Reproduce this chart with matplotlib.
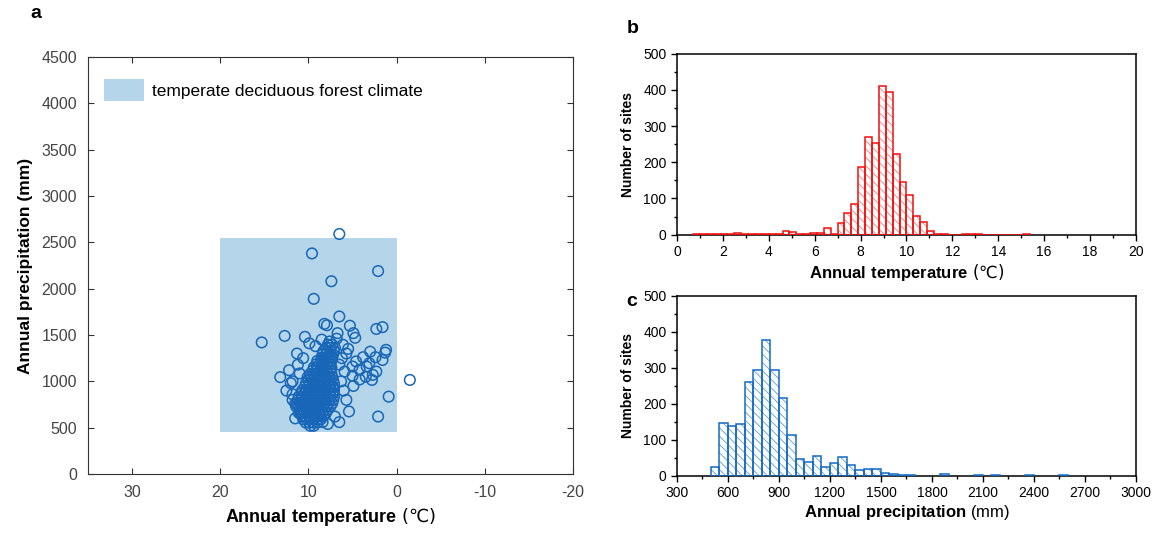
import matplotlib
matplotlib.use('Agg')
import matplotlib.pyplot as plt
from matplotlib.patches import Patch, Rectangle
from matplotlib.ticker import MultipleLocator

plt.rcParams['font.family'] = ['Liberation Sans', 'DejaVu Sans']
plt.rcParams['mathtext.fontset'] = 'custom'
plt.rcParams['mathtext.rm'] = 'DejaVu Sans'
plt.rcParams['mathtext.bf'] = 'Liberation Sans:bold'
plt.rcParams['axes.unicode_minus'] = False
plt.rcParams['hatch.linewidth'] = 0.6

# climate envelope (temperature range, precipitation range)
zone_temp = [0, 20]
zone_prec = [450, 2550]
zone_label = 'temperate deciduous forest climate'

# scattered sites (temperature, precipitation)
out_t = [6.5, 9.6, 2.1, 7.4, 9.4, 6.5, 5.3, 2.3, 1.6, 15.3, 12.7, 10.4, 8.2, 7.9,
         4.9, 4.7, -1.5, 0.9, 2.1, 5.4, 5.7, 13.2, 11.8, 4.9, 1.3, 1.2, 1.6, 2.4,
         2.8, 2.7, 2.3, 3.8, 4.6, 5.0, 5.9, 5.7, 6.1, 6.7, 3.4, 4.2, 3.1, 7.0,
         11.8, 11.0, 9.9, 3.5, 4.2, 6.2, 5.5, 6.5, 3.0, 5.0, 6.8, 8.5, 9.2,
         10.6, 11.3, 12.5, 10.9, 11.5, 6.5, 7.8, 8.4, 6.0, 6.3, 12.0, 11.8, 11.5,
         12.2, 11.2]
out_p = [2590, 2380, 2190, 2080, 1890, 1700, 1600, 1565, 1585, 1420, 1490, 1480, 1620, 1605,
         1520, 1470, 1015, 835, 620, 675, 800, 1045, 1000, 950, 1310, 1340, 1230, 1260,
         1015, 1070, 1105, 1260, 1215, 1160, 1105, 1300, 1395, 1520, 1160, 1125, 1195, 620,
         800, 1085, 1410, 1050, 1020, 1250, 1350, 1180, 1320, 1060, 1460, 1450, 1380,
         1250, 1300, 900, 650, 600, 560, 540, 560, 900, 1000, 980, 860, 760,
         1120, 1180]

# dense core of sites: precipitation rows and the temperatures found on each row
core_p = [520, 555, 590, 625, 660, 695, 730, 765, 800, 835, 870, 905, 940, 975,
          1010, 1045, 1080, 1115, 1150, 1185, 1220, 1255, 1290, 1325, 1360, 1395, 1430]
core_t = [
    [9.4, 9.8],
    [9.0, 9.45, 9.9, 10.3],
    [8.6, 9.0, 9.4, 9.8, 10.2, 10.6],
    [8.3, 8.7, 9.1, 9.5, 9.9, 10.3, 10.7],
    [8.0, 8.4, 8.8, 9.2, 9.6, 10.0, 10.4, 10.8, 11.1],
    [7.8, 8.2, 8.6, 9.0, 9.4, 9.8, 10.2, 10.6, 11.0],
    [7.5, 7.9, 8.3, 8.7, 9.1, 9.5, 9.9, 10.3, 10.7, 11.1, 11.4],
    [7.3, 7.7, 8.1, 8.5, 8.9, 9.3, 9.7, 10.1, 10.5, 10.9, 11.3],
    [7.2, 7.6, 8.0, 8.4, 8.8, 9.2, 9.6, 10.0, 10.4, 10.8, 11.2],
    [7.1, 7.5, 7.9, 8.3, 8.7, 9.1, 9.5, 9.9, 10.3, 10.7, 11.1],
    [7.2, 7.6, 8.0, 8.4, 8.8, 9.2, 9.6, 10.0, 10.4, 10.8],
    [7.1, 7.5, 7.9, 8.3, 8.7, 9.1, 9.5, 9.9, 10.3, 10.7],
    [7.2, 7.6, 8.0, 8.4, 8.8, 9.2, 9.6, 10.0, 10.4],
    [7.1, 7.5, 7.9, 8.3, 8.7, 9.1, 9.5, 9.9, 10.3],
    [7.2, 7.6, 8.0, 8.4, 8.8, 9.2, 9.6, 10.0],
    [7.3, 7.7, 8.1, 8.5, 8.9, 9.3, 9.7, 10.1],
    [7.4, 7.8, 8.2, 8.6, 9.0, 9.4, 9.8],
    [7.5, 7.9, 8.3, 8.7, 9.1, 9.5],
    [7.4, 7.8, 8.2, 8.6, 9.0, 9.4],
    [7.5, 7.9, 8.3, 8.7, 9.1],
    [7.4, 7.8, 8.2, 8.6, 9.0],
    [7.3, 7.7, 8.1, 8.5],
    [7.2, 7.6, 8.0, 8.4],
    [7.1, 7.5, 7.9, 8.3],
    [7.0, 7.5, 8.0],
    [7.3, 7.8],
    [7.6],
]

# histogram of annual temperature (bin left edges, width 0.3)
temp_bins = [0.7, 1.0, 1.3, 1.6, 1.9, 2.2, 2.5, 2.8, 3.1, 3.4, 3.7, 4.0, 4.3, 4.6,
             4.9, 5.2, 5.5, 5.8, 6.1, 6.4, 6.7, 7.0, 7.3, 7.6, 7.9, 8.2, 8.5, 8.8,
             9.1, 9.4, 9.7, 10.0, 10.3, 10.6, 10.9, 11.2, 11.5, 11.8, 12.1, 12.4,
             12.7, 13.0, 13.3, 13.6, 13.9, 14.2, 14.5, 14.8, 15.1]
temp_count = [1, 1, 3, 1, 3, 1, 5, 1, 1, 1, 1, 3, 2, 11,
              8, 1, 1, 4, 4, 18, 1, 33, 61, 86, 188, 269, 252, 411,
              393, 222, 145, 109, 52, 35, 11, 3, 1, 0, 0, 1,
              1, 1, 0, 0, 0, 0, 0, 0, 1]

# histogram of annual precipitation (bin left edges, width 50)
prec_bins = [500, 550, 600, 650, 700, 750, 800, 850, 900, 950, 1000, 1050, 1100,
             1150, 1200, 1250, 1300, 1350, 1400, 1450, 1500, 1550, 1600, 1650,
             1850, 2050, 2150, 2350, 2550]
prec_count = [25, 147, 137, 143, 260, 294, 377, 294, 216, 114, 47, 38, 56,
              24, 35, 52, 31, 17, 19, 19, 8, 4, 2, 1,
              4, 1, 1, 1, 1]

core_x = []
core_y = []
for p, row in zip(core_p, core_t):
    for t in row:
        core_x.append(t)
        core_y.append(p)

fig = plt.figure(figsize=(11.57, 5.33), dpi=100)

# ---- panel a
ax = fig.add_axes([0.0761, 0.1107, 0.4191, 0.7824])
ax.add_patch(Rectangle((zone_temp[0], zone_prec[0]), zone_temp[1] - zone_temp[0],
                       zone_prec[1] - zone_prec[0], facecolor='#b5d6ea',
                       edgecolor='none', zorder=1))
ax.scatter(core_x, core_y, s=58, facecolors='none', edgecolors='#1766b8',
           linewidths=1.1, zorder=2)
ax.scatter(out_t, out_p, s=58, facecolors='none', edgecolors='#1766b8',
           linewidths=1.1, zorder=2)
ax.set_xlim(35, -20)
ax.set_ylim(0, 4500)
ax.set_xticks([30, 20, 10, 0, -10, -20])
ax.set_yticks(range(0, 4501, 500))
ax.tick_params(direction='in', top=True, right=True, length=4, width=0.8,
               labelsize=11.5, labelcolor='#444444', color='#333333', pad=8)
for s in ax.spines.values():
    s.set_color('#333333')
    s.set_linewidth(0.8)
ax.set_xlabel(r'$\mathbf{Annual\ temperature}$ (℃)', fontsize=13, labelpad=4,
              fontfamily='DejaVu Sans')
ax.set_ylabel('Annual precipitation (mm)', fontsize=12.5, fontweight='bold', labelpad=6)
ax.legend(handles=[Patch(facecolor='#b5d6ea', edgecolor='none', label=zone_label)],
          loc='upper left', bbox_to_anchor=(0.0, 0.985), frameon=False,
          fontsize=12.5, handlelength=2.3, handleheight=1.6, handletextpad=0.5)

# ---- panel b
axb = fig.add_axes([0.5851, 0.5597, 0.3967, 0.3396])
axb.bar(temp_bins, temp_count, width=0.3, align='edge', facecolor='none',
        edgecolor='#ff7a7a', linewidth=0, hatch='\\\\\\\\', zorder=2)
axb.bar(temp_bins, temp_count, width=0.3, align='edge', facecolor='none',
        edgecolor='#f01010', linewidth=1.1, zorder=3)
axb.set_xlim(0, 20)
axb.set_ylim(0, 500)
axb.xaxis.set_major_locator(MultipleLocator(2))
axb.xaxis.set_minor_locator(MultipleLocator(1))
axb.yaxis.set_major_locator(MultipleLocator(100))
axb.yaxis.set_minor_locator(MultipleLocator(50))
axb.tick_params(which='major', length=4, width=1, labelsize=10)
axb.tick_params(which='minor', length=2, width=1)
for s in axb.spines.values():
    s.set_linewidth(1.1)
axb.set_xlabel(r'$\mathbf{Annual\ temperature}$ (℃)', fontsize=12, labelpad=2,
               fontfamily='DejaVu Sans')
axb.set_ylabel('Number of sites', fontsize=10, fontweight='bold', labelpad=6)

# ---- panel c
axc = fig.add_axes([0.5851, 0.1075, 0.3967, 0.3372])
axc.bar(prec_bins, prec_count, width=50, align='edge', facecolor='none',
        edgecolor='#5d9bd6', linewidth=0, hatch='\\\\\\\\', zorder=2)
axc.bar(prec_bins, prec_count, width=50, align='edge', facecolor='none',
        edgecolor='#1469c2', linewidth=1.1, zorder=3)
axc.set_xlim(300, 3000)
axc.set_ylim(0, 500)
axc.xaxis.set_major_locator(MultipleLocator(300))
axc.xaxis.set_minor_locator(MultipleLocator(150))
axc.yaxis.set_major_locator(MultipleLocator(100))
axc.yaxis.set_minor_locator(MultipleLocator(50))
axc.tick_params(which='major', length=4, width=1, labelsize=10)
axc.tick_params(which='minor', length=2, width=1)
for s in axc.spines.values():
    s.set_linewidth(1.1)
axc.set_xlabel(r'$\mathbf{Annual\ precipitation}$ (mm)', fontsize=12, labelpad=2)
axc.set_ylabel('Number of sites', fontsize=10, fontweight='bold', labelpad=6)

fig.text(0.026, 0.975, 'a', fontsize=14, fontweight='bold', va='center')
fig.text(0.542, 0.946, 'b', fontsize=14, fontweight='bold', va='center')
fig.text(0.541, 0.435, 'c', fontsize=14, fontweight='bold', va='center')

fig.savefig('out.png', dpi=100)
